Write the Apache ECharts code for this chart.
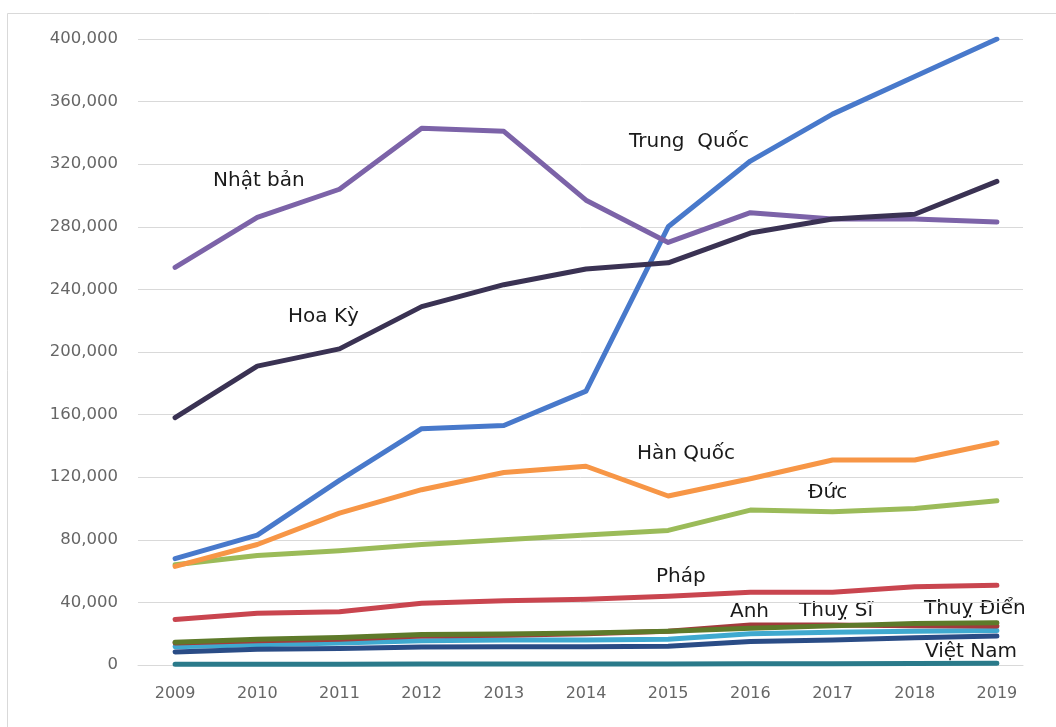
<!DOCTYPE html>
<html>
<head>
<meta charset="utf-8">
<script src="https://cdn.jsdelivr.net/npm/echarts@6/dist/echarts.min.js"></script>
<style>
  html, body { margin: 0; padding: 0; background: #ffffff; }
  #chart { width: 1056px; height: 727px; }
</style>
</head>
<body>
<div id="chart"></div>
<script>
// Years on the horizontal axis
const years = ['2009', '2010', '2011', '2012', '2013', '2014', '2015', '2016', '2017', '2018', '2019'];

// Patent counts per country, one array per series
const trungQuoc = [68000, 83000, 118000, 151000, 153000, 175000, 280000, 322000, 352000, 376000, 400000];
const phap      = [29000, 33000, 34000, 39500, 41000, 42000, 44000, 46500, 46500, 50000, 51000];
const duc       = [64000, 70000, 73000, 77000, 80000, 83000, 86000, 99000, 98000, 100000, 105000];
const nhatBan   = [254000, 286000, 304000, 343000, 341000, 297000, 270000, 289000, 285000, 285000, 283000];
const thuySi    = [11700, 13000, 14000, 15500, 16000, 16000, 16500, 20000, 21000, 21500, 22000];
const hanQuoc   = [63000, 77000, 97000, 112000, 123000, 127000, 108000, 119000, 131000, 131000, 142000];
const nuocKhac  = [8300, 10000, 10500, 11500, 11700, 11700, 12000, 15000, 16000, 17400, 18500];
const anh       = [14000, 15500, 16500, 18500, 19000, 20000, 21500, 25500, 25500, 25000, 25000];
const thuyDien  = [14500, 16500, 17500, 19500, 19800, 20500, 21500, 23500, 25000, 26500, 27000];
const hoaKy     = [158000, 191000, 202000, 229000, 243000, 253000, 257000, 276000, 285000, 288000, 309000];
const vietNam   = [430, 450, 500, 600, 700, 610, 660, 820, 850, 1000, 1100];

// Y axis range and step
const yMin = 0;
const yMax = 400000;
const yStep = 40000;

const seriesDefs = [
  { name: 'Trung Quốc', data: trungQuoc, color: '#4879CB' },
  { name: 'Pháp',       data: phap,      color: '#C9454F' },
  { name: 'Đức',        data: duc,       color: '#9BBB59' },
  { name: 'Nhật bản',   data: nhatBan,   color: '#7C63A8' },
  { name: 'Thuỵ Sĩ',    data: thuySi,    color: '#3FA9CF' },
  { name: 'Hàn Quốc',   data: hanQuoc,   color: '#F79646' },
  { name: 'Nước khác',  data: nuocKhac,  color: '#2A4C86' },
  { name: 'Anh',        data: anh,       color: '#A33A3C' },
  { name: 'Thuỵ Điển',  data: thuyDien,  color: '#5E7A2A' },
  { name: 'Hoa Kỳ',     data: hoaKy,     color: '#3A3253' },
  { name: 'Việt Nam',   data: vietNam,   color: '#2A7A8A' }
];

// Country names written next to their lines
const lineLabels = [
  { text: 'Nhật bản',    x: 213, y: 180 },
  { text: 'Trung  Quốc', x: 629, y: 141 },
  { text: 'Hoa Kỳ',      x: 288, y: 316 },
  { text: 'Hàn Quốc',    x: 637, y: 453 },
  { text: 'Đức',         x: 808, y: 492 },
  { text: 'Pháp',        x: 656, y: 576 },
  { text: 'Anh',         x: 730, y: 611 },
  { text: 'Thuỵ Sĩ',     x: 799, y: 610 },
  { text: 'Thuỵ Điển',   x: 924, y: 608 },
  { text: 'Việt Nam',    x: 925, y: 651 }
];

const chart = echarts.init(document.getElementById('chart'), null, { renderer: 'canvas' });

const gridTop = 39;
const gridBottom = 62;
const axisFont = 'DejaVu Sans, sans-serif';

const option = {
  animation: false,
  backgroundColor: '#ffffff',
  grid: [
    // grid carrying the data lines and year labels
    { left: 134, right: 18, top: gridTop, bottom: gridBottom, containLabel: false },
    // grid carrying the horizontal gridlines and value labels
    { left: 138, right: 33, top: gridTop, bottom: gridBottom, containLabel: false }
  ],
  xAxis: [
    {
      type: 'category',
      gridIndex: 0,
      data: years,
      boundaryGap: true,
      axisLine: { show: false },
      axisTick: { show: false },
      axisLabel: {
        margin: 21,
        color: '#666666',
        fontSize: 16,
        fontFamily: axisFont
      }
    },
    {
      type: 'category',
      gridIndex: 1,
      data: years,
      show: true,
      axisLine: { show: true, lineStyle: { color: '#d9d9d9', width: 1 } },
      axisTick: { show: false },
      axisLabel: { show: false }
    }
  ],
  yAxis: [
    {
      type: 'value',
      gridIndex: 0,
      min: yMin,
      max: yMax,
      interval: yStep,
      axisLine: { show: false },
      axisTick: { show: false },
      axisLabel: { show: false },
      splitLine: { show: false }
    },
    {
      type: 'value',
      gridIndex: 1,
      min: yMin,
      max: yMax,
      interval: yStep,
      axisLine: { show: false },
      axisTick: { show: false },
      axisLabel: {
        margin: 20,
        color: '#666666',
        fontSize: 16.5,
        fontFamily: axisFont,
        formatter: v => v.toLocaleString('en-US')
      },
      splitLine: { show: true, lineStyle: { color: '#d9d9d9', width: 1 } }
    }
  ],
  series: seriesDefs.map(s => ({
    name: s.name,
    type: 'line',
    xAxisIndex: 0,
    yAxisIndex: 0,
    data: s.data,
    symbol: 'none',
    smooth: false,
    lineStyle: { color: s.color, width: 5, cap: 'round', join: 'round' },
    itemStyle: { color: s.color }
  })),
  graphic: [
    // thin frame along the top and left edge
    {
      type: 'polyline',
      silent: true,
      shape: { points: [[7.5, 740], [7.5, 13.5], [1060, 13.5]] },
      style: { stroke: '#d9d9d9', lineWidth: 1, fill: null }
    }
  ].concat(lineLabels.map(l => ({
    type: 'text',
    left: l.x,
    top: l.y - 9,
    silent: true,
    style: {
      text: l.text,
      fill: '#1a1a1a',
      fontSize: 20,
      fontFamily: 'DejaVu Sans, sans-serif'
    }
  })))
};

chart.setOption(option);
</script>
</body>
</html>
